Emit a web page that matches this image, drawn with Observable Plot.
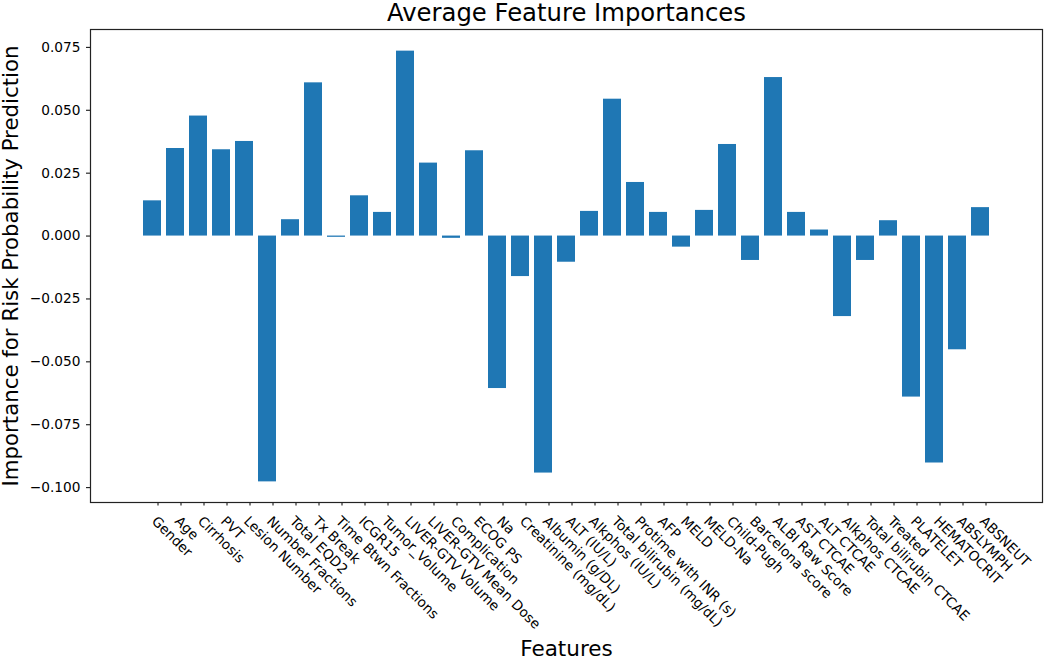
<!DOCTYPE html>
<html>
<head>
<meta charset="utf-8">
<script src="https://cdn.jsdelivr.net/npm/d3@7"></script>
<script src="https://cdn.jsdelivr.net/npm/@observablehq/plot@0.6"></script>
<style>
  html, body { margin: 0; padding: 0; background: #fff; }
  #chart svg { display: block; }
</style>
</head>
<body>
<div id="chart"></div>
<script>
// ---- data ----
const features = [
  "Gender", "Age", "Cirrhosis", "PVT", "Lesion Number", "Number Fractions",
  "Total EQD2", "Tx Break", "Time Btwn Fractions", "ICGR15", "Tumor_Volume",
  "LIVER-GTV Volume", "LIVER-GTV Mean Dose", "Complication", "ECOG PS", "Na",
  "Creatinine (mg/dL)", "Albumin (g/DL)", "ALT (IU/L)", "Alkphos (IU/L)",
  "Total bilirubin (mg/dL)", "Protime with INR (s)", "AFP", "MELD", "MELD-Na",
  "Child-Pugh", "Barcelona score", "ALBI Raw Score", "AST CTCAE", "ALT CTCAE",
  "Alkphos CTCAE", "Total bilirubin CTCAE", "Treated", "PLATELET", "HEMATOCRIT",
  "ABSLYMPH", "ABSNEUT"
];
const importances = [
  0.0140, 0.0348, 0.0477, 0.0343, 0.0376, -0.0977,
  0.0065, 0.0609, -0.0005, 0.0160, 0.0094,
  0.0735, 0.0290, -0.0009, 0.0339, -0.0606,
  -0.0161, -0.0942, -0.0104, 0.0098,
  0.0544, 0.0213, 0.0094, -0.0044, 0.0102,
  0.0364, -0.0097, 0.0630, 0.0094, 0.0024,
  -0.0320, -0.0097, 0.0061, -0.0640, -0.0902,
  -0.0452, 0.0113
];
const yTicks = [-0.1, -0.075, -0.05, -0.025, 0, 0.025, 0.05, 0.075];
const title = "Average Feature Importances";
const xLabel = "Features";
const yLabel = "Importance for Risk Probability Prediction";

const data = features.map((f, i) => ({feature: f, value: importances[i]}));

const chart = Plot.plot({
  width: 1050,
  height: 664,
  marginLeft: 90,
  marginRight: 8,
  marginTop: 29,
  marginBottom: 162,
  style: {fontFamily: "'DejaVu Sans', sans-serif", fontSize: "13.7px", color: "#000", background: "#fff", overflow: "visible"},
  x: {type: "band", domain: features, paddingInner: 0.2, paddingOuter: 1.84, align: 0.5},
  y: {domain: [-0.1059, 0.0821]},
  marks: [
    Plot.barY(data, {x: "feature", y: "value", fill: "#1f77b4"}),
    Plot.axisY({
      ticks: yTicks, tickSize: 4, tickPadding: 6,
      tickFormat: d3.format(".3f"), label: null, fontSize: 13.7, fill: "#000"
    }),
    Plot.axisX({
      tickSize: 3.5, tickPadding: 9, tickRotate: 45,
      textAnchor: "start", lineAnchor: "top", dx: 5.5,
      label: null, fontSize: 13.7, fill: "#000"
    }),
    Plot.frame({stroke: "#222", strokeWidth: 1.2}),
    Plot.text([title], {frameAnchor: "top", lineAnchor: "middle", dy: -16, fontSize: 24.3, fill: "#000"}),
    Plot.text([xLabel], {frameAnchor: "bottom", lineAnchor: "middle", dy: 147, fontSize: 21.5, fill: "#000"}),
    Plot.text([yLabel], {frameAnchor: "left", textAnchor: "middle", lineAnchor: "middle", dx: -79, rotate: -90, fontSize: 21.3, fill: "#000"})
  ]
});
document.getElementById("chart").appendChild(chart);
</script>
</body>
</html>
